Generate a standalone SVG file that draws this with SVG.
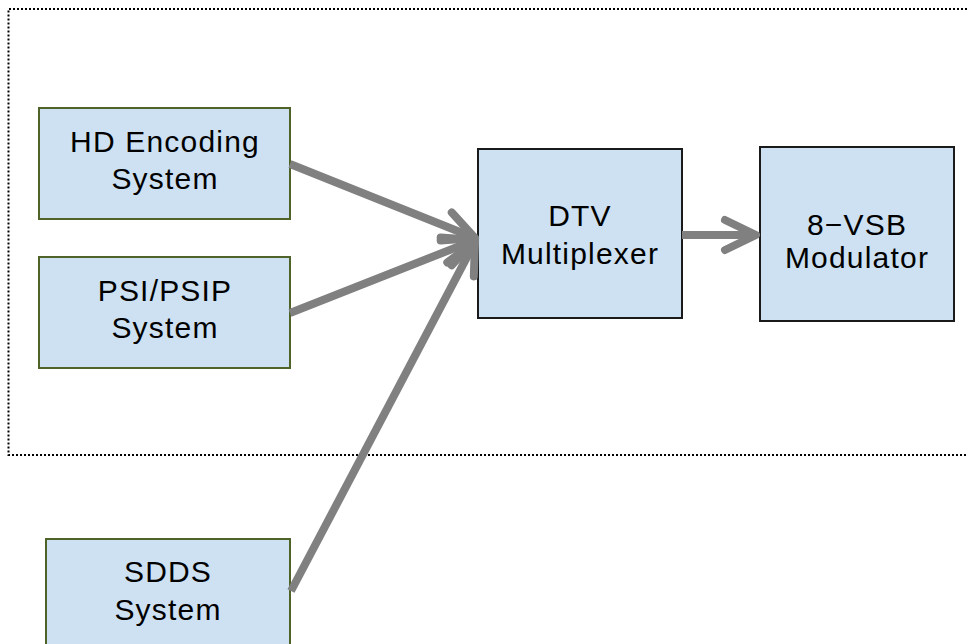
<svg xmlns="http://www.w3.org/2000/svg" width="968" height="644" viewBox="0 0 968 644">
  <defs>
    <style>
      .box { fill: #cde1f2; stroke-width: 2; }
      .src { stroke: #4f6228; }
      .blk { stroke: #1a1a1a; }
      .lbl { font-family: "Liberation Sans", Arial, sans-serif; font-size: 30px; fill: #000; text-anchor: middle; letter-spacing: 1.2px; }
      .wire { stroke: #808080; stroke-width: 8; fill: none; stroke-linecap: butt; marker-end: url(#chev); }
    </style>
    <marker id="chev" markerUnits="userSpaceOnUse" markerWidth="48" markerHeight="48" viewBox="-40 -24 48 48" refX="0" refY="0" orient="auto">
      <path d="M -31 -15 L 0 0 L -31 15" fill="none" stroke="#808080" stroke-width="8" stroke-linecap="round" stroke-linejoin="round"/>
    </marker>
  </defs>

  <rect width="968" height="644" fill="#ffffff"/>

  <!-- dotted boundary of the transmission chain -->
  <path d="M 975 9 L 8.5 9 L 8.5 455 L 975 455" fill="none" stroke="#000" stroke-width="2" stroke-dasharray="2 2"/>

  <g id="hd-encoding">
    <rect class="box src" x="39" y="108" width="251" height="111"/>
    <text class="lbl" x="165" y="152">HD Encoding</text>
    <text class="lbl" x="165" y="189">System</text>
  </g>

  <g id="psi-psip">
    <rect class="box src" x="39" y="257" width="251" height="111"/>
    <text class="lbl" x="165" y="301">PSI/PSIP</text>
    <text class="lbl" x="165" y="338">System</text>
  </g>

  <g id="sdds">
    <rect class="box src" x="46" y="539" width="244" height="120"/>
    <text class="lbl" x="168" y="582">SDDS</text>
    <text class="lbl" x="168" y="620">System</text>
  </g>

  <g id="dtv-mux">
    <rect class="box blk" x="478" y="149" width="204" height="169"/>
    <text class="lbl" x="580" y="226">DTV</text>
    <text class="lbl" x="580" y="264">Multiplexer</text>
  </g>

  <g id="vsb-mod">
    <rect class="box blk" x="760" y="147" width="194" height="174"/>
    <text class="lbl" x="857" y="235">8−VSB</text>
    <text class="lbl" x="857" y="268">Modulator</text>
  </g>

  <g id="connectors">
    <path class="wire" d="M 290 164 L 475 238"/>
    <path class="wire" d="M 290 313 L 475 240"/>
    <path class="wire" d="M 291 591 L 475 242"/>
    <path class="wire" d="M 682 235 L 756 235"/>
  </g>
</svg>
